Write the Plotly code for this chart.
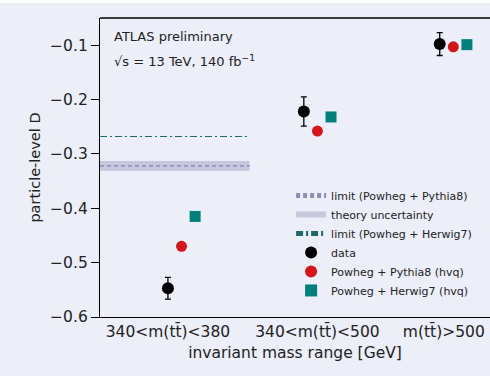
import plotly.graph_objects as go

categories = ["340<m(tt\u0304)<380", "340<m(tt\u0304)<500", "m(tt\u0304)>500"]
data_vals = [-0.547, -0.222, -0.098]
data_err = [0.020, 0.027, 0.021]
pythia_vals = [-0.470, -0.258, -0.103]
herwig_vals = [-0.415, -0.232, -0.099]
limit_pythia = -0.322
limit_pythia_unc = 0.009
limit_herwig = -0.268

BG = "#ECEEF8"
RED = "#D7141A"
TEAL = "#00807A"
FONT = "DejaVu Sans, Verdana, sans-serif"

xpos = [0, 1, 2]
off = 0.1

fig = go.Figure()

fig.add_trace(go.Scatter(
    x=[-0.6, 0.5], y=[limit_pythia, limit_pythia], mode="lines",
    line=dict(color="#8E8EB8", width=1, dash="4px,3px"),
    name="limit (Powheg + Pythia8)", legendrank=1))
# theory uncertainty band (first bin region)
fig.add_trace(go.Scatter(
    x=[-0.6, 0.5, 0.5, -0.6, -0.6],
    y=[limit_pythia - limit_pythia_unc, limit_pythia - limit_pythia_unc,
       limit_pythia + limit_pythia_unc, limit_pythia + limit_pythia_unc,
       limit_pythia - limit_pythia_unc],
    fill="toself", fillcolor="rgba(170,168,200,0.55)", mode="none",
    name="theory uncertainty", legendrank=2, hoverinfo="skip"))
fig.add_trace(go.Scatter(
    x=[-0.6, 0.5], y=[limit_pythia, limit_pythia], mode="lines",
    line=dict(color="#8E8EB8", width=1.2, dash="4px,3px"),
    showlegend=False, hoverinfo="skip"))
fig.add_trace(go.Scatter(
    x=[-0.6, 0.5], y=[limit_herwig, limit_herwig], mode="lines",
    line=dict(color="#1E6B66", width=1, dash="7px,3px,2px,3px"),
    name="limit (Powheg + Herwig7)", legendrank=3))

fig.add_trace(go.Scatter(
    x=[p - off for p in xpos], y=data_vals, mode="markers",
    marker=dict(color="black", size=12),
    error_y=dict(type="data", array=data_err, color="black", thickness=1.3, width=3),
    name="data", legendrank=4))
fig.add_trace(go.Scatter(
    x=xpos, y=pythia_vals, mode="markers",
    marker=dict(color=RED, size=11),
    name="Powheg + Pythia8 (hvq)", legendrank=5))
fig.add_trace(go.Scatter(
    x=[p + off for p in xpos], y=herwig_vals, mode="markers",
    marker=dict(color=TEAL, size=11, symbol="square"),
    name="Powheg + Herwig7 (hvq)", legendrank=6))

fig.add_shape(type="rect", xref="paper", yref="paper",
              x0=-0.3, x1=1.0, y0=-0.213, y1=1.05,
              fillcolor=BG, line_width=0, layer="below")

fig.add_annotation(text="ATLAS preliminary", xref="paper", yref="paper",
                   x=0.03, y=0.937, xanchor="left", yanchor="middle",
                   showarrow=False, font=dict(size=13, color="#222", family=FONT))
fig.add_annotation(text="\u221As = 13 TeV, 140 fb<sup>\u22121</sup>", xref="paper", yref="paper",
                   x=0.03, y=0.855, xanchor="left", yanchor="middle",
                   showarrow=False, font=dict(size=13, color="#222", family=FONT))

fig.update_layout(
    width=490, height=376,
    margin=dict(l=100, r=0, t=18, b=59),
    paper_bgcolor="white", plot_bgcolor=BG,
    font=dict(family=FONT, color="#222", size=15),
    showlegend=True,
    legend=dict(x=0.49, y=0.455, xanchor="left", yanchor="top",
                bgcolor="rgba(0,0,0,0)", font=dict(size=11, family=FONT),
                itemsizing="constant", tracegroupgap=0, itemwidth=30),
    xaxis=dict(range=[-0.6, 2.27], tickvals=[-0.1, 1, 1.93], ticktext=categories,
               showgrid=False, zeroline=False, showline=True, linecolor="black",
               linewidth=1.3, mirror=False, ticks="", tickfont=dict(size=15.5),
               title=dict(text="invariant mass range [GeV]", font=dict(size=15.5), standoff=7)),
    yaxis=dict(range=[-0.6, -0.05], tickvals=[-0.6, -0.5, -0.4, -0.3, -0.2, -0.1],
               ticktext=["\u22120.6", "\u22120.5", "\u22120.4", "\u22120.3", "\u22120.2", "\u22120.1"],
               showgrid=False, zeroline=False, showline=True, linecolor="black",
               linewidth=1.3, ticks="outside", ticklen=8, tickcolor="black",
               tickfont=dict(size=15.5),
               title=dict(text="particle-level D", font=dict(size=14.5), standoff=6)),
)
fig.add_shape(type="line", xref="paper", yref="paper", x0=0, x1=1, y0=1, y1=1,
              line=dict(color="black", width=1.3))

fig.write_html("out.html")
